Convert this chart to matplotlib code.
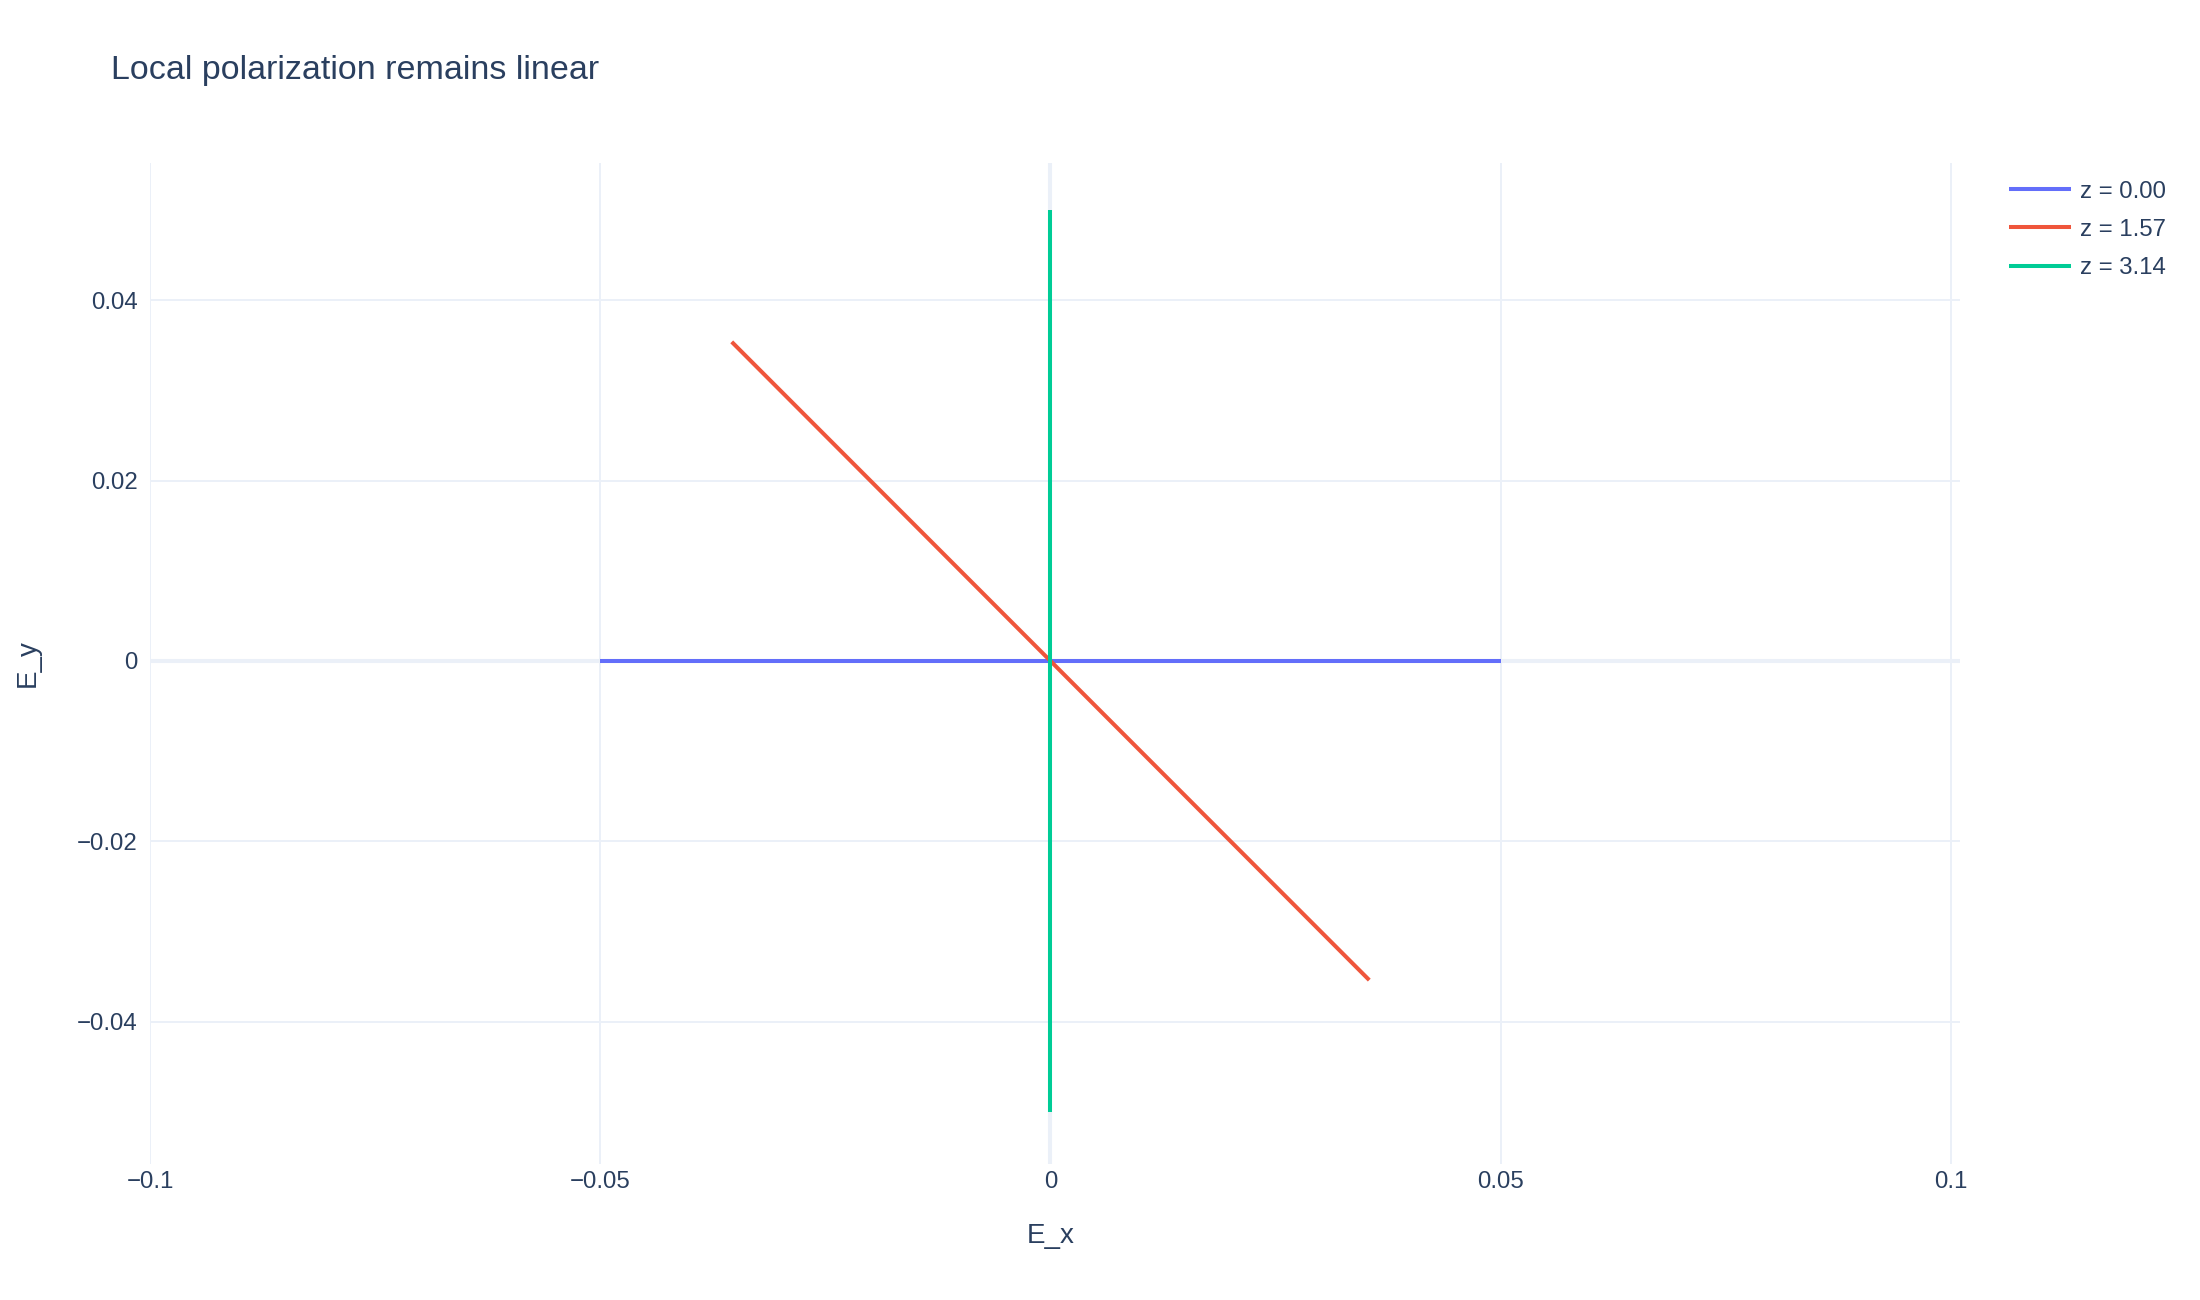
import numpy as np
import matplotlib
matplotlib.use("Agg")
import matplotlib.pyplot as plt
from matplotlib.ticker import FuncFormatter

plt.rcParams['font.family'] = ['Liberation Sans', 'DejaVu Sans']

# field endpoints for each slice (E_x, E_y)
labels = ["z = 0.00", "z = 1.57", "z = 3.14"]
ex = [[-0.05, 0.05], [-0.0354, 0.0354], [0.0, 0.0]]
ey = [[0.0, 0.0], [0.0354, -0.0354], [0.05, -0.05]]
colors = ["#636efa", "#EF553B", "#00cc96"]

xticks = [-0.1, -0.05, 0, 0.05, 0.1]
yticks = [-0.04, -0.02, 0, 0.02, 0.04]

txt = "#2a3f5f"
grid = "#ebf0f8"

fig = plt.figure(figsize=(22, 13), dpi=100)
ax = fig.add_axes([150/2200, 1 - 1164/1300, (1960-150)/2200, (1164-163)/1300])

for x, y, c, lab in zip(ex, ey, colors, labels):
    ax.plot(x, y, color=c, lw=2.9, label=lab, solid_capstyle='butt', zorder=3)

ax.set_xlim(-0.1, 0.101)
ax.set_ylim(-0.0558, 0.05524)
ax.set_xticks(xticks)
ax.set_yticks(yticks)

fmt = FuncFormatter(lambda v, p: ("%g" % round(v, 4)).replace("-", "\u2212"))
ax.xaxis.set_major_formatter(fmt)
ax.yaxis.set_major_formatter(fmt)

ax.grid(True, color=grid, lw=1.4, zorder=0)
ax.axhline(0, color=grid, lw=2.9, zorder=1)
ax.axvline(0, color=grid, lw=2.9, zorder=1)
for s in ax.spines.values():
    s.set_visible(False)
ax.tick_params(length=0, labelsize=17.3, colors=txt)
ax.tick_params(axis='x', pad=5)
ax.tick_params(axis='y', pad=9)

ax.set_xlabel("E_x", fontsize=20, color=txt)
ax.xaxis.set_label_coords((1051 - 150) / (1960 - 150), -0.059)
ax.set_ylabel("E_y", fontsize=20, color=txt, labelpad=26)

fig.text(111/2200, 1 - 70.5/1300, "Local polarization remains linear",
         fontsize=24.5, color=txt, va='center', ha='left')

leg = ax.legend(loc='upper left', bbox_to_anchor=(1999/2200, 1 - 171/1300),
                bbox_transform=fig.transFigure, frameon=False,
                fontsize=17.3, handlelength=2.6, handletextpad=0.38,
                labelspacing=0.675, borderaxespad=0)
for t in leg.get_texts():
    t.set_color(txt)

fig.savefig("out.png", dpi=100, facecolor="white")
